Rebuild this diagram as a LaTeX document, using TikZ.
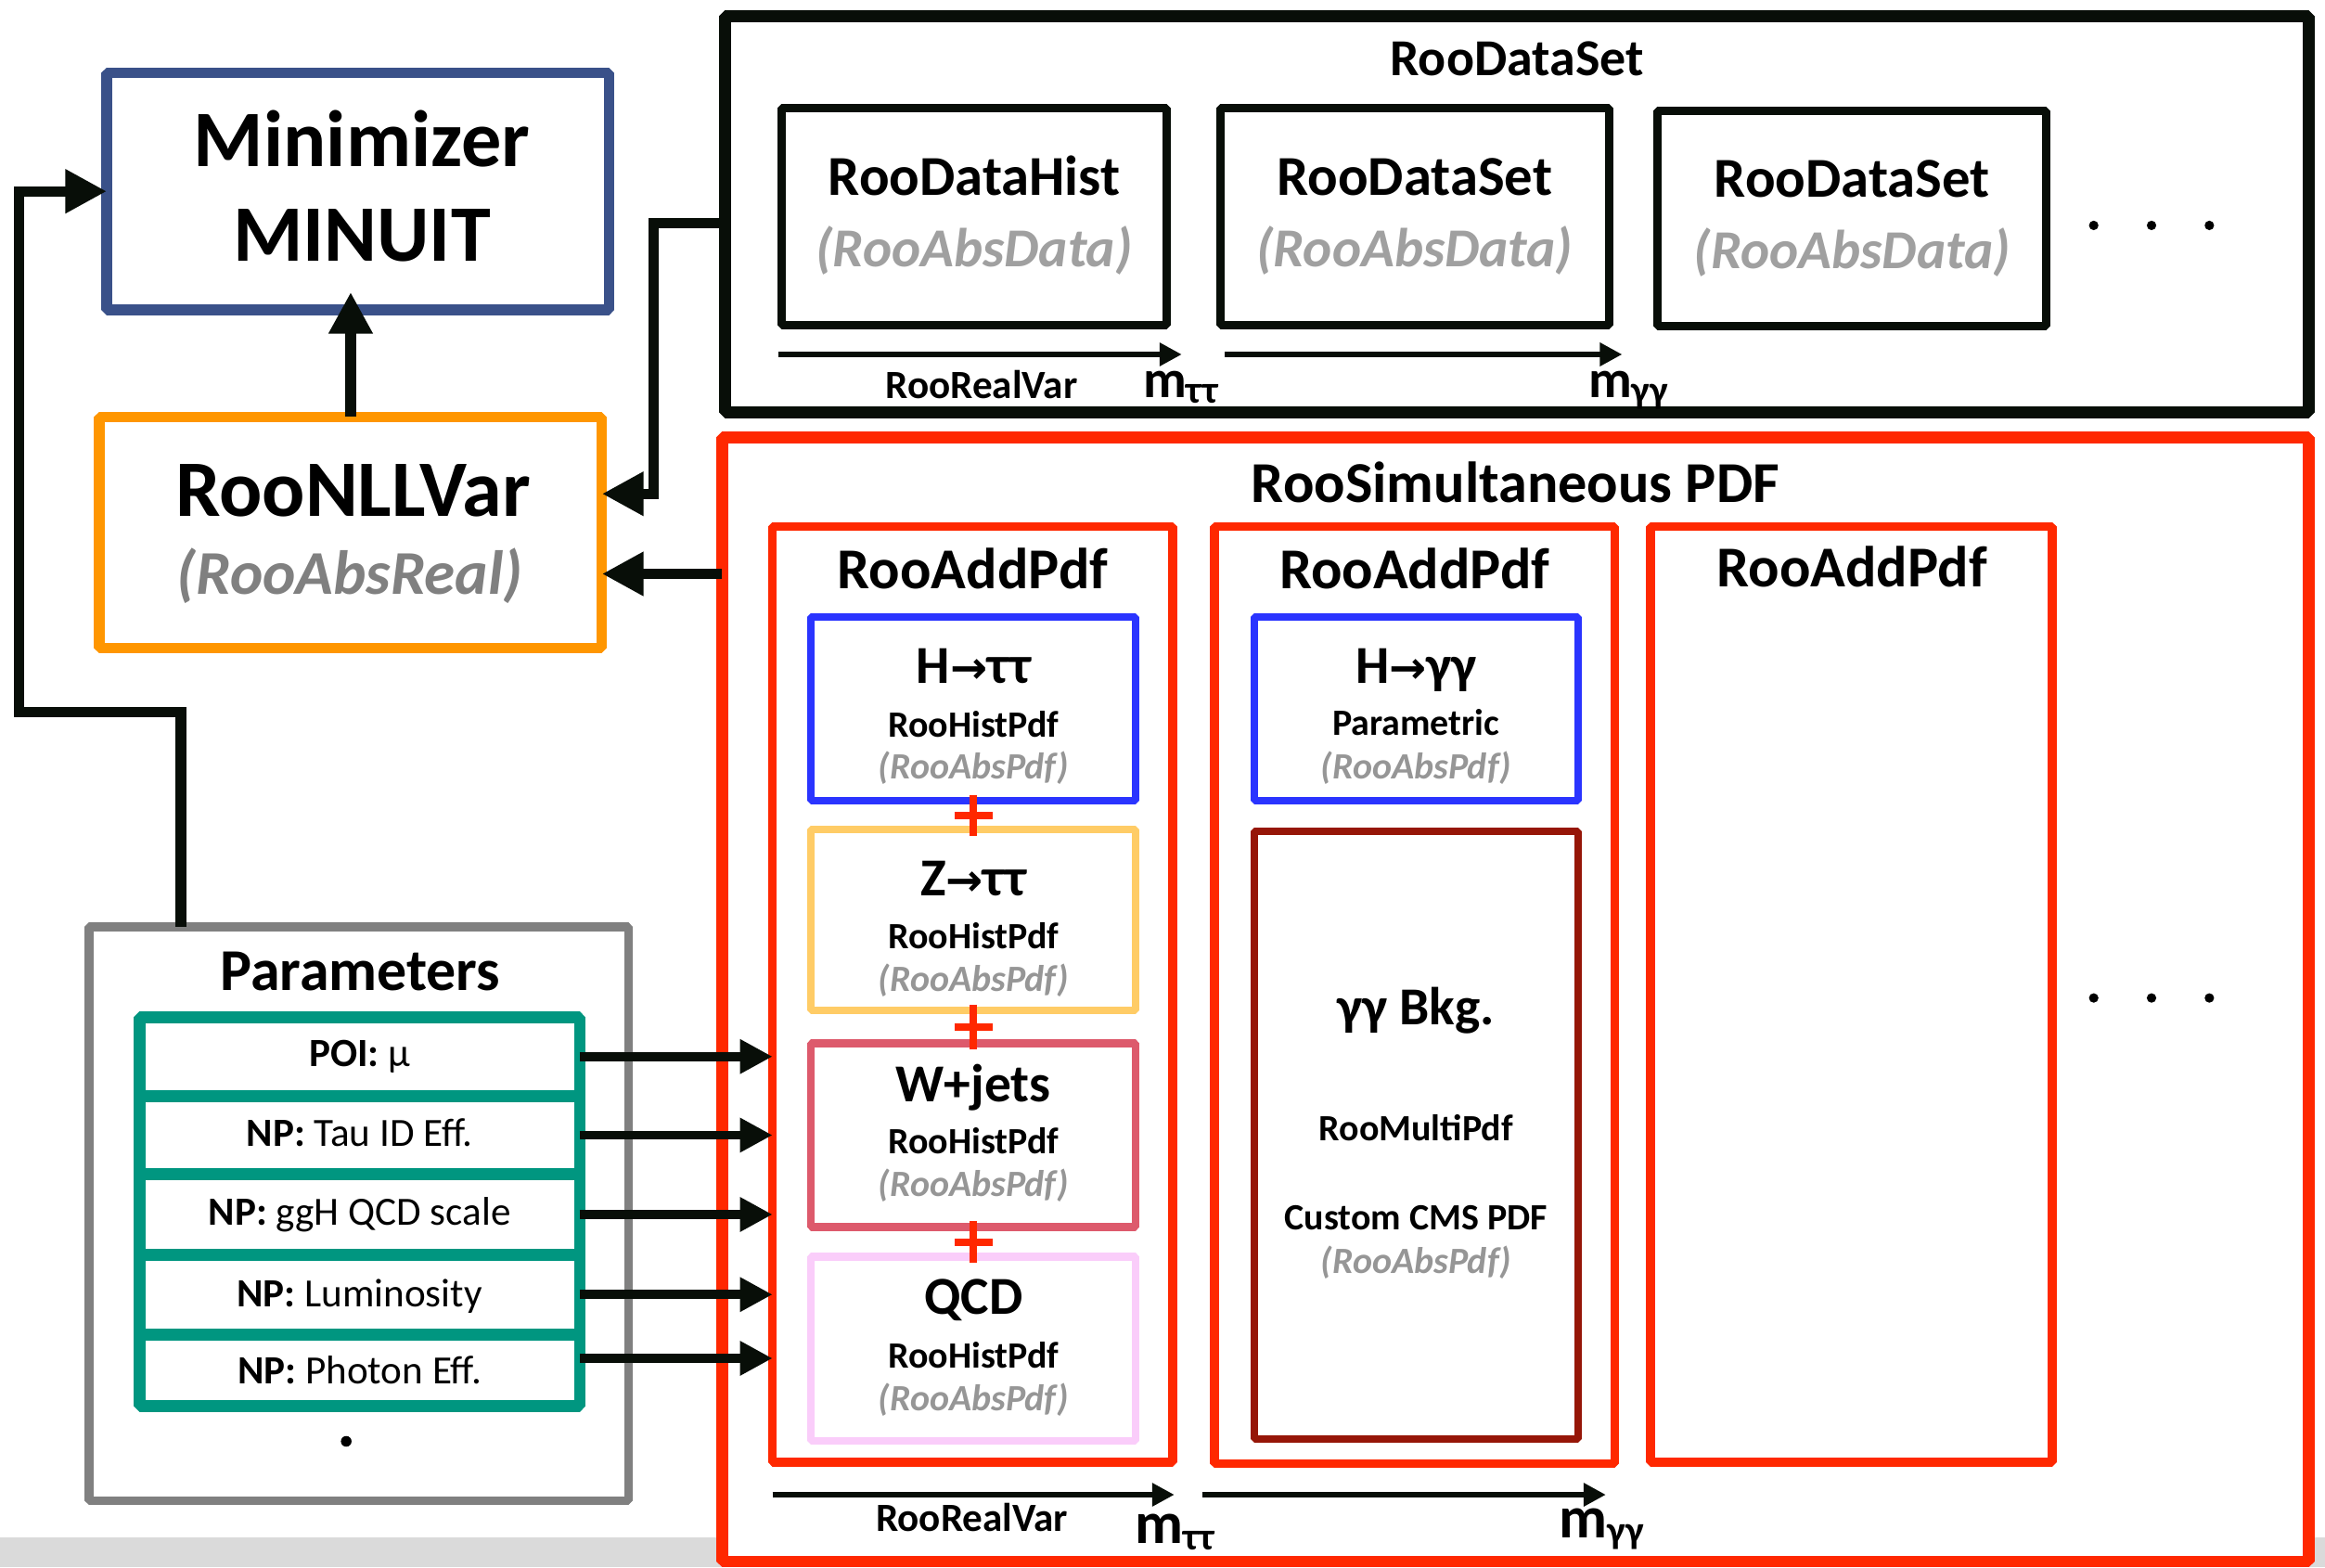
\documentclass[tikz,border=0pt]{standalone}
\usepackage{fontspec}
\setmainfont{Carlito}
\newfontfamily\arrfont{DejaVu Sans}
\usetikzlibrary{arrows.meta,fit}
\definecolor{cMin}{RGB}{58,81,137}
\definecolor{cOrange}{RGB}{255,150,0}
\definecolor{cBlack}{RGB}{8,14,8}
\definecolor{cRed}{RGB}{255,40,0}
\definecolor{cBlue}{RGB}{42,52,255}
\definecolor{cYellow}{RGB}{255,204,102}
\definecolor{cRose}{RGB}{221,90,108}
\definecolor{cPink}{RGB}{250,205,250}
\definecolor{cDark}{RGB}{150,22,8}
\definecolor{cTeal}{RGB}{0,150,128}
\definecolor{cGrayBox}{RGB}{128,128,128}
\definecolor{cBand}{RGB}{218,218,218}
\definecolor{cTxtA}{RGB}{128,128,128}
\definecolor{cTxtB}{RGB}{160,160,160}
\definecolor{cTxtC}{RGB}{150,150,150}
\newcommand\fs[1]{\fontsize{#1}{#1}\selectfont}
\newcommand\harr{{\arrfont\bfseries\fs{15pt}→}}
\newcommand\msub[2]{#1{\fs{13pt}\raisebox{-2pt}{#2}}}
\begin{document}
\begin{tikzpicture}[x=0.5pt,y=-0.5pt,
  box/.style={draw, inner sep=0pt, outer sep=0pt, line join=bevel},
  lbl/.style={anchor=base, inner sep=0pt},
  arr/.style={draw=cBlack, line width=3.5pt, -{Triangle[length=14pt,width=14pt]}},
  parr/.style={draw=cBlack, line width=3pt, -{Triangle[length=11pt,width=11pt]}},
  axarr/.style={draw=cBlack, line width=1.9pt, -{Triangle[length=7.5pt,width=7.5pt]}},
  plusl/.style={draw=cRed, line width=2.5pt},
  big/.style={lbl, font=\bfseries\fs{27pt}},
  bigit/.style={lbl, font=\bfseries\itshape\fs{21pt}, text=cTxtA},
  title/.style={lbl, font=\bfseries\fs{19.5pt}},
  dtitle/.style={lbl, font=\bfseries\fs{19pt}},
  dabs/.style={lbl, font=\bfseries\itshape\fs{18.5pt}, text=cTxtB},
  comp/.style={lbl, font=\bfseries\fs{18pt}},
  small/.style={lbl, font=\bfseries\fs{12.5pt}},
  pabs/.style={lbl, font=\bfseries\itshape\fs{12.5pt}, text=cTxtC},
  row/.style={lbl, font=\fs{13.5pt}},
  axl/.style={lbl, font=\bfseries\fs{13.5pt}},
  mlab/.style={lbl, font=\bfseries\fs{20pt}},
  dot/.style={fill=black}
]
\useasboundingbox (0,0) rectangle (1568,1057);
\fill[white] (0,0) rectangle (1568,1057);
\fill[cBand] (0,1037) rectangle (1568,1057);

% ---- left column
\node[box, draw=cMin, line width=3.5pt, fit={(72,49) (411,209)}] (min) {};
\node[big] (tmin1) at (244,112) {Minimizer};
\node[big] (tmin2) at (244,176) {MINUIT};

\node[box, draw=cOrange, line width=3.5pt, fit={(67,281) (406,437)}] (nll) {};
\node[big] (tnll1) at (238,348) {RooNLLVar};
\node[bigit] (tnll2) at (236,401) {(RooAbsReal)};

% ---- RooDataSet
\node[box, draw=cBlack, line width=4pt, fit={(489,11) (1557,278)}] (dset) {};
\node[lbl, font=\bfseries\fs{17.5pt}] (tdset) at (1023,51) {RooDataSet};
\node[box, draw=cBlack, line width=2.8pt, fit={(527,73) (787,219)}] (d1) {};
\node[box, draw=cBlack, line width=2.8pt, fit={(823,73) (1085,219)}] (d2) {};
\node[box, draw=cBlack, line width=2.8pt, fit={(1118,75) (1380,220)}] (d3) {};
\node[dtitle] (td1) at (657,132) {RooDataHist};
\node[dabs] (ta1) at (657,180) {(RooAbsData)};
\node[dtitle] (td2) at (954,132) {RooDataSet};
\node[dabs] (ta2) at (954,180) {(RooAbsData)};
\node[dtitle] (td3) at (1249,133) {RooDataSet};
\node[dabs] (ta3) at (1249,181) {(RooAbsData)};
\fill[dot] (1412,152) circle (1.6pt) (1451,152) circle (1.6pt) (1490,152) circle (1.6pt);
\coordinate (da1) at (525,239);
\coordinate (da1e) at (797,239);
\coordinate (da2) at (826,239);
\coordinate (da2e) at (1094,239);
\draw[axarr] (da1) -- (da1e);
\draw[axarr] (da2) -- (da2e);
\node[axl] (trv1) at (662,269) {RooRealVar};
\node[lbl, font=\bfseries\fs{18pt}] (tm1) at (796,268) {\msub{m}{ττ}};
\node[lbl, font=\bfseries\fs{18pt}] (tm2) at (1098,268) {\msub{m}{γγ}};

% ---- RooSimultaneous
\node[box, draw=cRed, fill=white, line width=4pt, fit={(487,295) (1557,1053)}] (sim) {};
\node[lbl, font=\bfseries\fs{19.5pt}] (tsim) at (1022,339) {RooSimultaneous PDF};

\node[box, draw=cRed, line width=3pt, fit={(521,355) (791,986)}] (add1) {};
\node[box, draw=cRed, line width=3pt, fit={(819,355) (1089,987)}] (add2) {};
\node[box, draw=cRed, line width=3pt, fit={(1113,355) (1384,986)}] (add3) {};
\node[title] (tadd1) at (656,397) {RooAddPdf};
\node[title] (tadd2) at (954,397) {RooAddPdf};
\node[title] (tadd3) at (1249,396) {RooAddPdf};
\fill[dot] (1412,673) circle (1.6pt) (1451,673) circle (1.6pt) (1490,673) circle (1.6pt);

% components, column 1
\node[box, draw=cBlue, line width=2.6pt, fit={(547,416) (766,540)}] (htt) {};
\node[box, draw=cYellow, line width=2.6pt, fit={(547,559.5) (766,681.5)}] (ztt) {};
\node[box, draw=cRose, line width=2.6pt, fit={(547,703.5) (766,827.5)}] (wj) {};
\node[box, draw=cPink, line width=2.6pt, fit={(547,847.5) (766,971.5)}] (qcd) {};
\node[comp] (thtt) at (656.5,461) {H\harr ττ};
\node[small] (thtt2) at (656.5,497) {RooHistPdf};
\node[pabs] (thtt3) at (656.5,525.5) {(RooAbsPdf)};
\node[comp] (tztt) at (656.5,604) {Z\harr ττ};
\node[small] (tztt2) at (656.5,640) {RooHistPdf};
\node[pabs] (tztt3) at (656.5,668.5) {(RooAbsPdf)};
\node[comp] (twj) at (656.5,743) {W+jets};
\node[small] (twj2) at (656.5,778) {RooHistPdf};
\node[pabs] (twj3) at (656.5,807) {(RooAbsPdf)};
\node[comp] (tqcd) at (656.5,886) {QCD};
\node[small] (tqcd2) at (656.5,922.5) {RooHistPdf};
\node[pabs] (tqcd3) at (656.5,951.5) {(RooAbsPdf)};

% plus signs
\draw[plusl, shorten <=-2pt, shorten >=-2pt] (htt.south) -- (ztt.north) coordinate[midway] (p1);
\draw[plusl] ([xshift=-6.4pt]p1) -- ([xshift=6.4pt]p1);
\draw[plusl, shorten <=-2pt, shorten >=-2pt] (ztt.south) -- (wj.north) coordinate[midway] (p2);
\draw[plusl] ([xshift=-6.4pt]p2) -- ([xshift=6.4pt]p2);
\draw[plusl, shorten <=-2pt, shorten >=-2pt] (wj.south) -- (qcd.north) coordinate[midway] (p3);
\draw[plusl] ([xshift=-6.4pt]p3) -- ([xshift=6.4pt]p3);

% components, column 2
\node[box, draw=cBlue, line width=2.6pt, fit={(846,416) (1064.5,540)}] (hgg) {};
\node[box, draw=cDark, line width=2.6pt, fit={(846,560.5) (1064.5,970.5)}] (bkg) {};
\node[comp] (thgg) at (955,461) {H\harr γγ};
\node[small] (thgg2) at (955,496) {Parametric};
\node[pabs] (thgg3) at (955,525.5) {(RooAbsPdf)};
\node[comp] (tbkg) at (955,691) {γγ Bkg.};
\node[small] (tbkg2) at (955,769.5) {RooMultiPdf};
\node[small] (tbkg3) at (955,829.5) {Custom CMS PDF};
\node[pabs] (tbkg4) at (955,859) {(RooAbsPdf)};

% bottom axes
\coordinate (ba1) at (521,1008);
\coordinate (ba1e) at (792,1008);
\coordinate (ba2) at (811,1008);
\coordinate (ba2e) at (1083,1008);
\draw[axarr] (ba1) -- (ba1e);
\draw[axarr] (ba2) -- (ba2e);
\node[axl] (trv2) at (655.5,1032.5) {RooRealVar};
\node[mlab] (tm3) at (792,1041) {\msub{m}{ττ}};
\node[mlab] (tm4) at (1080,1037) {\msub{m}{γγ}};

% ---- Parameters
\node[box, draw=cGrayBox, line width=3pt, fit={(60,625) (424,1012)}] (par) {};
\node[lbl, font=\bfseries\fs{20pt}] (tpar) at (243,668) {Parameters};
\node[box, draw=cTeal, line width=4pt, fit={(94,686) (391,739)}] (r1) {};
\node[box, draw=cTeal, line width=4pt, fit={(94,739) (391,792)}] (r2) {};
\node[box, draw=cTeal, line width=4pt, fit={(94,792) (391,846)}] (r3) {};
\node[box, draw=cTeal, line width=4pt, fit={(94,846) (391,900)}] (r4) {};
\node[box, draw=cTeal, line width=4pt, fit={(94,900) (391,948)}] (r5) {};
\node[row] (tr1) at (242.5,719.5) {\textbf{POI:} μ};
\node[row] (tr2) at (242.5,773) {\textbf{NP:} Tau ID Eff.};
\node[row] (tr3) at (242.5,826) {\textbf{NP:} ggH QCD scale};
\node[row] (tr4) at (242.5,881) {\textbf{NP:} Luminosity};
\node[row] (tr5) at (242.5,933) {\textbf{NP:} Photon Eff.};
\fill[dot] (233.5,972) circle (1.8pt);

% ---- connectors
\draw[arr, shorten >=-6pt] (nll.north) -- (nll.north |- min.south);
\coordinate (loopc) at (13,480);
\draw[arr] ([xshift=31pt]par.north west) |- (loopc) |- (min.west);
\coordinate (dcorner) at (441,333);
\draw[arr] ([yshift=-3pt]dset.west) -| (dcorner) -- ([yshift=13pt]nll.east);
\draw[arr] ([yshift=-14pt]nll.east -| sim.west) -- ([yshift=-14pt]nll.east);
\draw[parr] (r1.east) -- (r1.east -| add1.west);
\draw[parr] (r2.east) -- (r2.east -| add1.west);
\draw[parr] (r3.east) -- (r3.east -| add1.west);
\draw[parr] (r4.east) -- (r4.east -| add1.west);
\draw[parr] ([yshift=4pt]r5.east) -- ([yshift=4pt]r5.east -| add1.west);
\end{tikzpicture}
\end{document}
